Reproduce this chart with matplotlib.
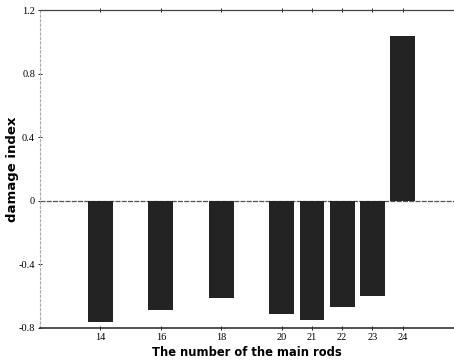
import numpy as np
import matplotlib
matplotlib.use("Agg")
import matplotlib.pyplot as plt

rods = [14, 16, 18, 20, 21, 22, 23, 24]
damage = [-0.76, -0.69, -0.61, -0.71, -0.75, -0.67, -0.60, 1.04]
ytick_vals = [-0.8, -0.4, 0, 0.4, 0.8, 1.2]
ytick_labels = ["-0.8", "-0.4", "0", "0.4", "0.8", "1.2"]

fig = plt.figure(figsize=(4.54, 3.62), dpi=100)
ax = fig.add_axes([0.088, 0.094, 0.912, 0.878])

ax.bar(rods, damage, width=0.82, color="#232323", zorder=3)
ax.axhline(0, color="#555555", lw=0.9, ls=(0, (4, 1)), zorder=2)

ax.set_xlim(12, 25.7)
ax.set_ylim(-0.8, 1.2)
ax.set_xticks(rods)
ax.set_xticklabels([str(r) for r in rods], family="Liberation Serif", fontsize=7.5)
ax.set_yticks(ytick_vals)
ax.set_yticklabels(ytick_labels, family="Liberation Serif", fontsize=7.5)
ax.tick_params(direction="inout", length=3, width=0.6, pad=2, top=True)

ax.spines["right"].set_visible(False)
ax.spines["left"].set_color("#aaaaaa")
ax.spines["left"].set_linestyle((0, (2, 2)))
ax.spines["top"].set_color("#444444")
ax.spines["top"].set_linewidth(0.9)
ax.spines["bottom"].set_color("#333333")
ax.spines["bottom"].set_linewidth(1.2)

ax.set_xlabel("The number of the main rods", fontsize=8.3, labelpad=3, fontweight="semibold")
ax.set_ylabel("damage index", fontsize=9.5, labelpad=0, fontweight="semibold")

plt.savefig("out.png", dpi=100)
